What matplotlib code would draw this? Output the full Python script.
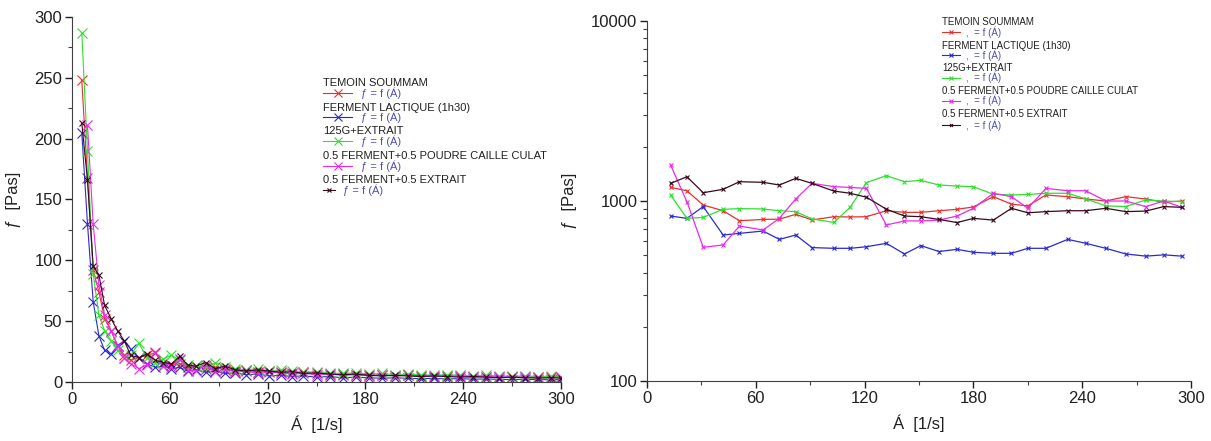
import matplotlib
matplotlib.use("Agg")
import matplotlib.pyplot as plt
from matplotlib.ticker import MultipleLocator, LogLocator, NullFormatter

plt.rcParams['font.family'] = ['Liberation Sans', 'DejaVu Sans']

# series names
names = ['TEMOIN SOUMMAM', 'FERMENT LACTIQUE (1h30)', '125G+EXTRAIT',
         '0.5 FERMENT+0.5 POUDRE CAILLE CULAT', '0.5 FERMENT+0.5 EXTRAIT']
colors = ['#e8302c', '#2a2ad0', '#2ee02e', '#ea2aea', '#38081e']
left_ms = [6.5, 6.5, 6.5, 6.5, 4]

# left chart: viscosity (Pa.s) vs shear rate (1/s)
left_x = [6, 9.5, 13, 16.5, 20, 24, 28, 32, 36, 41, 46, 51, 56, 61, 66, 71, 76, 82, 88, 94,
          100, 107, 114, 121, 128, 135, 142, 150, 158, 166, 174, 182, 190, 198, 206, 214, 222,
          230, 238, 246, 254, 262, 270, 278, 286, 294, 300]
left_red = [248, 168, 92, 74, 52, 42, 30, 22, 18, 20, 22, 24, 16, 14, 15, 12, 13, 11, 12, 10,
            9, 10, 8, 9, 8, 7, 8, 7, 6, 6.5, 6, 5.5, 6, 5, 5.5, 5, 4.5, 5, 4.5, 4,
            4.5, 4, 3.8, 4, 3.5, 3.8, 3.5]
left_blue = [205, 130, 66, 38, 26, 23, 30, 34, 27, 20, 15, 12, 13, 11, 12, 9, 10, 8, 9, 7,
             7.5, 6, 6.5, 5, 5.5, 4.5, 5, 4, 4.5, 3.5, 4, 3.5, 3, 3.5, 3, 2.8, 3, 2.5, 2.8, 2.3,
             2.5, 2.2, 2, 2.3, 1.8, 2, 1.8]
left_green = [287, 190, 89, 55, 42, 34, 26, 20, 22, 32, 20, 16, 19, 22, 18, 14, 13, 12, 16, 12,
              11, 10, 11, 9, 10, 9, 8, 8.5, 7.5, 7, 7.5, 6.5, 7, 6, 6.5, 6, 5.5, 6, 5.5, 5,
              5.5, 5, 4.8, 5, 4.5, 4.8, 4.5]
left_magenta = [211, 130, 80, 55, 42, 30, 20, 15, 11, 14, 25, 13, 12, 19, 10, 9, 14, 8, 11,
                8, 9, 7, 8, 7.5, 6.5, 7, 6, 6.5, 5.5, 6, 5, 5.5, 5, 5.5, 4.5, 5, 4.5, 5, 4,
                4.5, 4, 4.2, 3.8, 4, 3.5, 3.8]  # starts at x = 9.5
left_black = [213, 166, 95, 88, 63, 52, 42, 34, 22, 20, 23, 18, 16, 15, 21, 14, 13, 16, 11, 13,
              10, 9, 10, 9, 8, 8.5, 7, 7.5, 6.5, 6, 6.5, 5.5, 5, 5.5, 5, 4.5, 5, 4.5, 4, 4.5,
              4, 3.5, 4, 3.5, 3.2, 3.5, 3.2]

# right chart: log scale
right_x = [13, 22, 31, 42, 51, 64, 73, 82, 91, 103, 112, 121, 132, 142, 151, 161, 171, 180,
           191, 201, 210, 220, 232, 242, 253, 264, 275, 285, 295]
right_red = [1191, 1140, 950, 883, 777, 790, 793, 843, 785, 818, 815, 818, 883, 865, 865, 883,
             899, 927, 1057, 960, 940, 1080, 1057, 1026, 1000, 1057, 1026, 985, 1000]
right_blue = [825, 801, 931, 647, 661, 681, 612, 647, 551, 546, 546, 557, 582, 508, 565, 524,
              539, 519, 512, 512, 546, 546, 612, 582, 546, 508, 494, 502, 494]
right_green = [1080, 801, 811, 899, 907, 903, 883, 873, 795, 760, 922, 1265, 1383, 1280, 1302,
               1227, 1211, 1200, 1090, 1080, 1087, 1104, 1104, 1026, 940, 931, 1013, 1000, 991]
right_magenta = [1585, 991, 553, 570, 726, 690, 801, 1026, 1253, 1202, 1189, 1175, 736, 775,
                 775, 783, 825, 911, 1104, 1057, 911, 1175, 1140, 1140, 1000, 1000, 931, 1000, 922]
right_black = [1253, 1364, 1112, 1161, 1280, 1270, 1227, 1336, 1253, 1136, 1104, 1050, 900, 825,
               818, 790, 759, 801, 783, 911, 860, 873, 883, 883, 911, 873, 879, 931, 922]

x_ticks = [0, 60, 120, 180, 240, 300]

fig = plt.figure(figsize=(12.11, 4.41), dpi=100)
ax1 = fig.add_axes([72 / 1211, 59 / 441, 489 / 1211, 365 / 441])
ax2 = fig.add_axes([647 / 1211, 60 / 441, 544 / 1211, 360 / 441])

left_series = [(left_x, left_red), (left_x, left_blue), (left_x, left_green),
               (left_x[1:], left_magenta), (left_x, left_black)]
for (xs, ys), c, m in zip(left_series, colors, left_ms):
    ax1.plot(xs, ys, color=c, lw=0.8, marker='x', ms=m, mew=0.8)

right_series = [right_red, right_blue, right_green, right_magenta, right_black]
for ys, c in zip(right_series, colors):
    ax2.plot(right_x, ys, color=c, lw=0.9, marker='x', ms=3.5, mew=0.8)

ax1.set_xlim(0, 300)
ax1.set_ylim(0, 300)
ax1.xaxis.set_minor_locator(MultipleLocator(30))
ax1.yaxis.set_minor_locator(MultipleLocator(25))

ax2.set_yscale('log')
ax2.set_xlim(0, 300)
ax2.set_ylim(100, 10000)
ax2.xaxis.set_minor_locator(MultipleLocator(30))
ax2.yaxis.set_minor_locator(LogLocator(base=10, subs=range(2, 10)))
ax2.yaxis.set_minor_formatter(NullFormatter())
ax2.set_yticks([100, 1000, 10000])
ax2.set_yticklabels(['100', '1000', '10000'])

for ax in (ax1, ax2):
    ax.set_xticks(x_ticks)
    for s in ('top', 'right'):
        ax.spines[s].set_visible(False)
    for s in ('left', 'bottom'):
        ax.spines[s].set_color('#404040')
    ax.tick_params(which='major', direction='out', length=5, width=1, colors='#202020',
                   labelsize=12, pad=2)
    ax.tick_params(which='minor', direction='out', length=3, width=0.8, colors='#404040')
    ax.set_xlabel('Á  [1/s]', fontsize=12, color='#202020', labelpad=6)
    ax.set_ylabel('ƒ  [Pas]', fontsize=12, color='#202020', labelpad=10)


def legend_block(ax, x0, line_end, text_x, title_ys, sample_ys, fs, ms, label, short_end,
                 short_text_x):
    for i, (name, c) in enumerate(zip(names, colors)):
        ax.text(x0, title_ys[i], name, transform=ax.transAxes, fontsize=fs, color='#202020',
                va='center', ha='left')
        xe = line_end if i < 4 else short_end
        tx = text_x if i < 4 else short_text_x
        ax.plot([x0, xe], [sample_ys[i], sample_ys[i]], color=c, lw=0.8,
                transform=ax.transAxes, clip_on=False)
        ax.plot([(x0 + xe) / 2], [sample_ys[i]], color=c, marker='x',
                ms=ms if i < 4 else ms * 0.6, mew=0.8,
                transform=ax.transAxes, clip_on=False)
        ax.text(tx, sample_ys[i], label, transform=ax.transAxes, fontsize=fs, color='#5050b0',
                va='center', ha='left')


legend_block(ax1, 0.513, 0.573, 0.591,
             [0.820, 0.751, 0.687, 0.620, 0.553],
             [0.792, 0.725, 0.659, 0.592, 0.526],
             8, 6, 'ƒ = f (Á)', 0.538, 0.554)
legend_block(ax2, 0.542, 0.575, 0.586,
             [0.998, 0.931, 0.870, 0.806, 0.741],
             [0.969, 0.906, 0.843, 0.779, 0.711],
             7, 3.5, ',  = f (Á)', 0.575, 0.586)

fig.savefig('out.png', dpi=100)
